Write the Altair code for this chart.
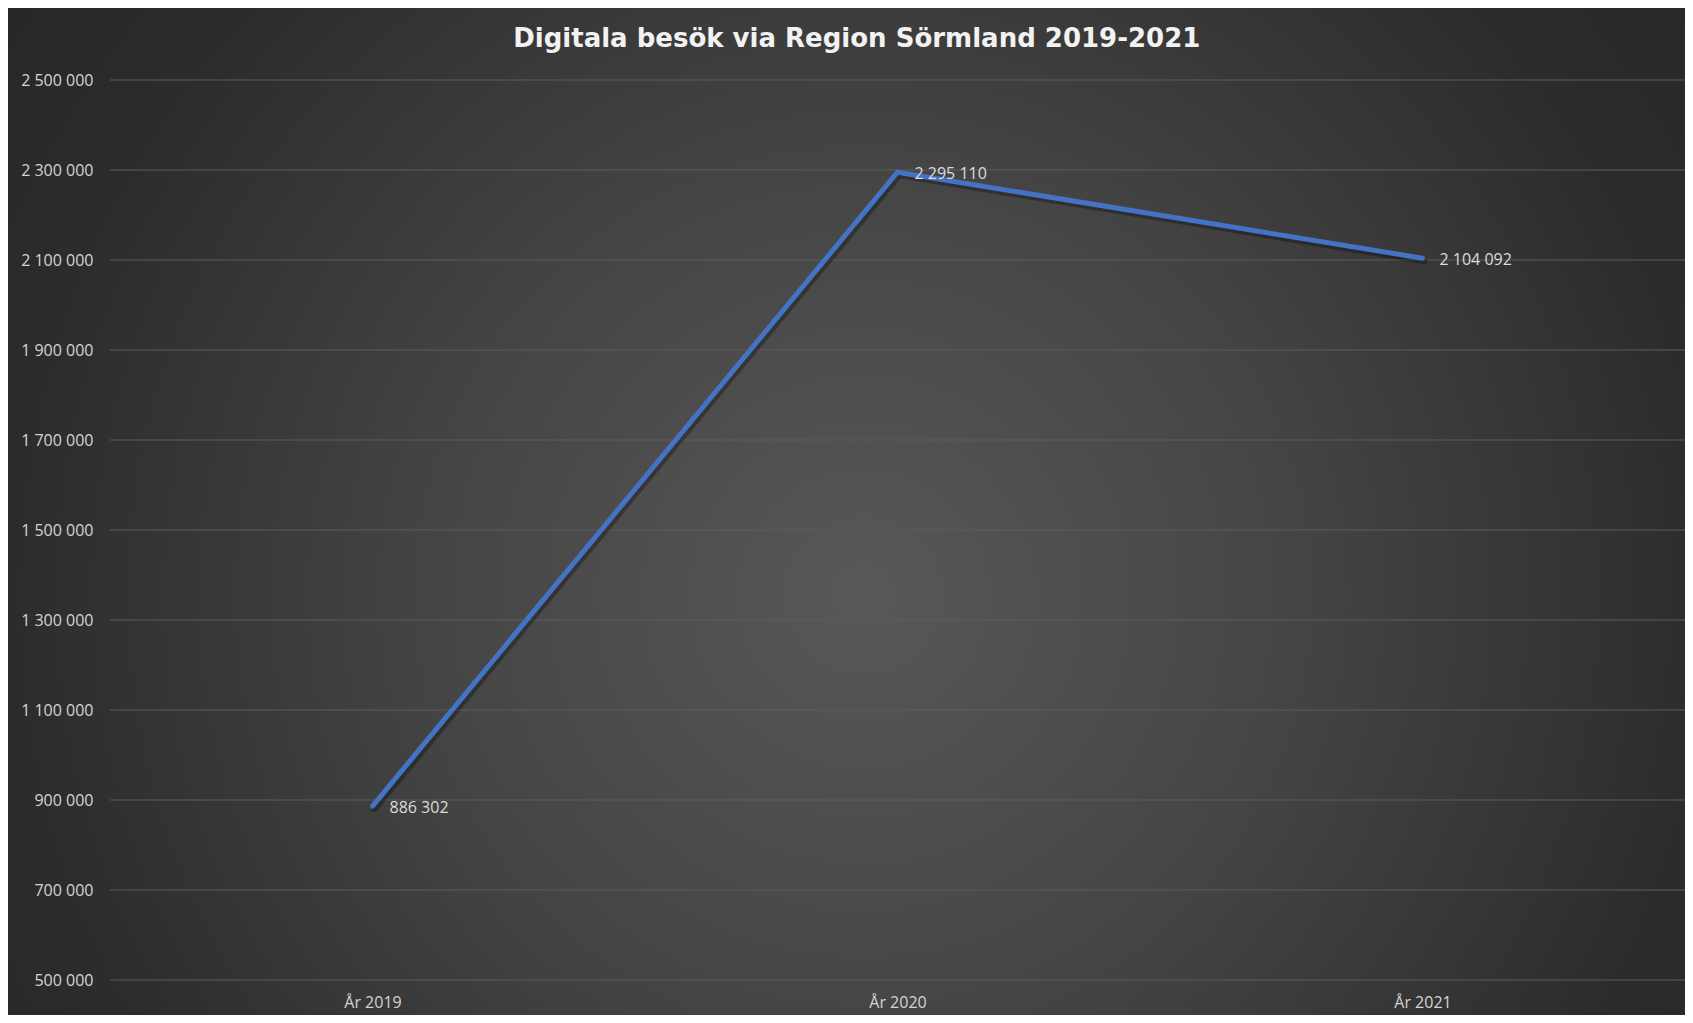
import altair as alt
import pandas as pd

# ---- data ----
years = ["År 2019", "År 2020", "År 2021"]
visits = [886302, 2295110, 2104092]
y_ticks = [500000, 700000, 900000, 1100000, 1300000, 1500000,
           1700000, 1900000, 2100000, 2300000, 2500000]

df = pd.DataFrame({"year": years, "visits": visits})
grid_df = pd.DataFrame({"v": y_ticks})
bg_df = pd.DataFrame({"a": [0]})

PLOT_W, PLOT_H = 1575, 900
PAD_L, PAD_T, PAD_R, PAD_B = 102, 72, 0, 35

FONT = "Open Sans"
LABEL_COLOR = "#d4d4d4"
fmt_expr = "replace(replace(format({v}, ','), ',', ' '), ',', ' ')"

y_scale = alt.Scale(domain=[500000, 2500000], nice=False, zero=False)

y_axis = alt.Axis(values=y_ticks, labelExpr=fmt_expr.format(v="datum.value"),
                  grid=False, domain=False, ticks=False, labelPadding=17,
                  labelFontSize=16, labelFont=FONT, labelColor=LABEL_COLOR,
                  labelAlign="right", labelBaseline="middle", zindex=1)
x_axis = alt.Axis(labelAngle=0, domain=False, ticks=False, grid=False,
                  labelPadding=14, labelFontSize=16, labelFont=FONT,
                  labelColor=LABEL_COLOR, labelAlign="center",
                  labelBaseline="top", zindex=1)

gradient = {
    "gradient": "radial",
    "x1": 0.51, "y1": 0.55, "r1": 0,
    "x2": 0.51, "y2": 0.55, "r2": 0.72,
    "stops": [
        {"offset": 0.0, "color": "#585858"},
        {"offset": 0.35, "color": "#454545"},
        {"offset": 0.7, "color": "#2c2c2c"},
        {"offset": 1.0, "color": "#232323"},
    ],
}

background = alt.Chart(bg_df).mark_rect(color=gradient, clip=False).encode(
    x=alt.value(-PAD_L), x2=alt.value(PLOT_W + PAD_R),
    y=alt.value(-PAD_T), y2=alt.value(PLOT_H + PAD_B),
)

grid = alt.Chart(grid_df).mark_rule(color="#5c5c5c", strokeWidth=1).encode(
    y=alt.Y("v:Q", scale=y_scale, title=None, axis=y_axis)
)

X = alt.X("year:N", sort=years, title=None, axis=x_axis)
Y = alt.Y("visits:Q", scale=y_scale, title=None, axis=y_axis)

shadow = alt.Chart(df).mark_line(color="#000000", opacity=0.3, strokeWidth=6,
                                 xOffset=2, yOffset=3, strokeCap="round").encode(
    x=X, y=Y,
)

line = alt.Chart(df).mark_line(color="#4472C4", strokeWidth=5,
                               strokeCap="round").encode(
    x=X, y=Y,
)

labels = alt.Chart(df).transform_calculate(
    label=fmt_expr.format(v="datum.visits")
).mark_text(align="left", baseline="middle", dx=17, dy=2, fontSize=16,
            font=FONT, color="#dcdcdc").encode(
    x=X, y=Y,
    text="label:N",
)

chart = alt.layer(background, grid, shadow, line, labels).properties(
    width=PLOT_W, height=PLOT_H,
    padding={"left": PAD_L, "top": PAD_T, "right": PAD_R, "bottom": PAD_B},
    autosize=alt.AutoSizeParams(type="none"),
    title=alt.TitleParams("Digitala besök via Region Sörmland 2019-2021",
                          font="DejaVu Sans", fontSize=26, fontWeight="bold",
                          color="#f2f2f2", anchor="middle", frame="bounds",
                          offset=-44, dx=10),
    background="#262626",
).configure_view(stroke=None)

chart.save("out.html", embed_options={"renderer": "svg", "actions": False})
